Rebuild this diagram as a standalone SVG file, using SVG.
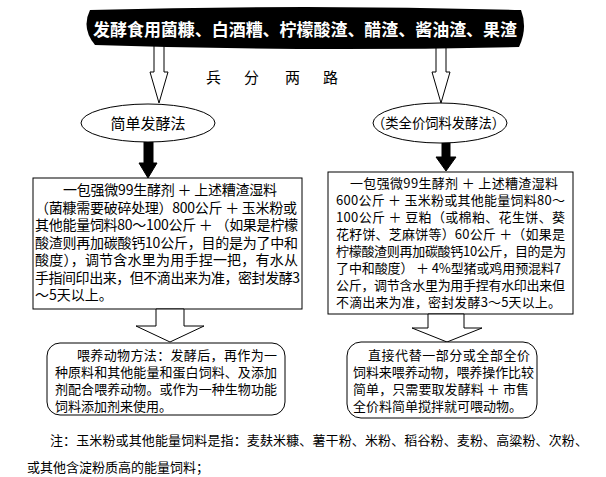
<svg xmlns="http://www.w3.org/2000/svg" width="606" height="477" viewBox="0 0 606 477">
<style>
.t{font-family:"Noto Sans CJK SC","Noto Sans",sans-serif;fill:#000}
.box{fill:#fff;stroke:#000;stroke-width:1}
.hollow{fill:#fff;stroke:#000;stroke-width:1}
.solid{fill:#000;stroke:#000;stroke-width:1}
</style>
<rect width="606" height="477" fill="#fff"/>
<g id="connectors">
<path class="hollow" d="M154,44 V72 H150 L159,103 L168,72 H164 V44 Z"/>
<path class="hollow" d="M436,44 V72 H432 L441,103 L450,72 H446 V44 Z"/>
<path class="solid" d="M144,142 V163 H139 L148,178 L157,163 H153 V142 Z"/>
<path class="solid" d="M442,143 V157 H436 L446,171 L456,157 H450 V143 Z"/>
</g>
<g id="banner">
<path d="M90,10 Q305,4 521,10 Q528,28 519,47 Q305,52 95,45 Q81,28 90,10 Z" fill="#000"/>
<text class="t" x="305" y="35.5" text-anchor="middle" font-size="17" font-weight="bold" style="fill:#fff" textLength="424" lengthAdjust="spacingAndGlyphs">发酵食用菌糠、白酒糟、柠檬酸渣、醋渣、酱油渣、果渣</text>
</g>
<g id="split-label">
<text class="t" y="82.5" font-size="15"><tspan x="206">兵</tspan><tspan x="244">分</tspan><tspan x="285">两</tspan><tspan x="323">路</tspan></text>
</g>
<g id="simple-method">
<ellipse class="box" cx="148" cy="123" rx="67" ry="19"/>
<text class="t" x="148" y="128.5" font-size="15" text-anchor="middle">简单发酵法</text>
</g>
<g id="full-price-method">
<ellipse class="box" cx="440" cy="123" rx="67" ry="20"/>
<text class="t" x="372" y="128" font-size="14" textLength="133" lengthAdjust="spacingAndGlyphs">（类全价饲料发酵法）</text>
</g>
<g id="simple-recipe">
<rect class="box" x="33" y="178" width="269" height="131"/>
<g class="t" font-size="14">
<text x="63" y="195" textLength="214">一包强微99生酵剂 ＋ 上述糟渣湿料</text>
<text x="35" y="212.5" textLength="262">（菌糠需要破碎处理）800公斤 ＋ 玉米粉或</text>
<text x="35" y="230" textLength="263">其他能量饲料80～100公斤 ＋ （如果是柠檬</text>
<text x="35" y="247.5" textLength="263">酸渣则再加碳酸钙10公斤，目的是为了中和</text>
<text x="35" y="265" textLength="263">酸度），调节含水里为用手捏一把，有水从</text>
<text x="35" y="282.5" textLength="265">手指间印出来，但不滴出来为准，密封发酵3</text>
<text x="35" y="300">～5天以上。</text>
</g>
</g>
<g id="full-price-recipe">
<rect class="box" x="328" y="172" width="245" height="142"/>
<g class="t" font-size="13">
<text x="350" y="188" textLength="208">一包强微99生酵剂 ＋ 上述糟渣湿料</text>
<text x="336" y="205" textLength="229">600公斤 ＋ 玉米粉或其他能量饲料80～</text>
<text x="336" y="222" textLength="229">100公斤 ＋ 豆粕（或棉粕、花生饼、葵</text>
<text x="336" y="239" textLength="229">花籽饼、芝麻饼等）60公斤 ＋（如果是</text>
<text x="336" y="256" textLength="230">柠檬酸渣则再加碳酸钙10公斤，目的是为</text>
<text x="336" y="272.5" textLength="225">了中和酸度） ＋ 4%型猪或鸡用预混料7</text>
<text x="336" y="289.5" textLength="229">公斤，调节含水里为用手捏有水印出来但</text>
<text x="336" y="306.5" textLength="225">不滴出来为准，密封发酵3～5天以上。</text>
</g>
</g>
<g id="connectors-lower">
<path class="hollow" d="M156,309 V326 H136 L170,342 L204,326 H184 V309 Z"/>
<path class="hollow" d="M428,314 V328 H412 L447,342 L482,328 H464 V314 Z"/>
</g>
<g id="simple-usage">
<rect class="box" x="47" y="343" width="238" height="72" rx="13"/>
<g class="t" font-size="13">
<text x="77" y="359.5" textLength="200">喂养动物方法：发酵后，再作为一</text>
<text x="55" y="376.5" textLength="222">种原料和其他能量和蛋白饲料、及添加</text>
<text x="55" y="393.5" textLength="222">剂配合喂养动物。或作为一种生物功能</text>
<text x="55" y="410.5">饲料添加剂来使用。</text>
</g>
</g>
<g id="full-price-usage">
<rect class="box" x="347" y="342" width="190" height="76" rx="14"/>
<g class="t" font-size="13">
<text x="368" y="360" textLength="162">直接代替一部分或全部全价</text>
<text x="353" y="377" textLength="181">饲料来喂养动物，喂养操作比较</text>
<text x="353" y="394" textLength="176">简单，只需要取发酵料 ＋ 市售</text>
<text x="353" y="411">全价料简单搅拌就可喂动物。</text>
</g>
</g>
<g id="note" class="t" font-size="13">
<text x="50" y="444.5" textLength="538">注：玉米粉或其他能量饲料是指：麦麸米糠、薯干粉、米粉、稻谷粉、麦粉、高粱粉、次粉、</text>
<text x="27" y="472">或其他含淀粉质高的能量饲料；</text>
</g>
</svg>
